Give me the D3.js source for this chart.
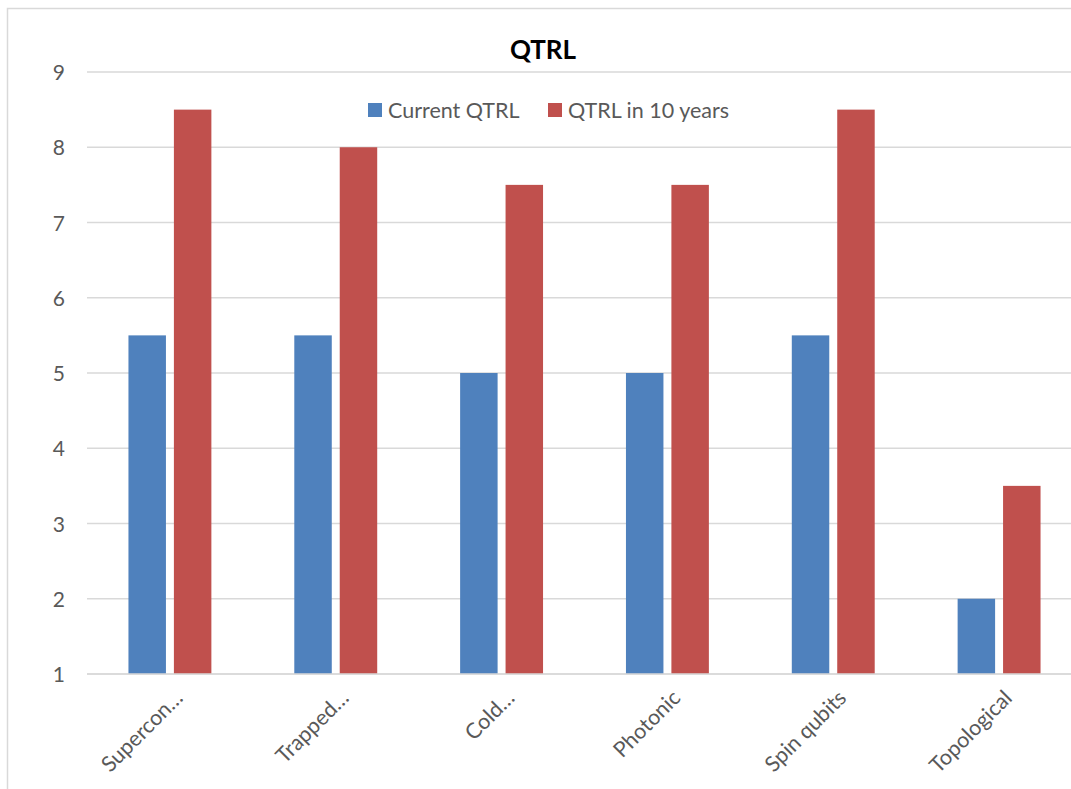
<!DOCTYPE html>
<html>
<head>
<meta charset="utf-8">
<script src="https://cdn.jsdelivr.net/npm/d3@7"></script>
<style>
  html, body { margin: 0; padding: 0; background: #fff; }
  svg { display: block; font-family: Lato, "Open Sans", "Liberation Sans", sans-serif; }
</style>
</head>
<body>
<svg id="chart" width="1071" height="789"></svg>
<script>
// Technology platforms and their readiness levels
const categories = ["Supercon…", "Trapped…", "Cold…", "Photonic", "Spin qubits", "Topological"];
const currentQTRL = [5.5, 5.5, 5, 5, 5.5, 2];
const futureQTRL = [8.5, 8, 7.5, 7.5, 8.5, 3.5];
const seriesNames = ["Current QTRL", "QTRL in 10 years"];
const yTicks = [1, 2, 3, 4, 5, 6, 7, 8, 9];

const colors = ["#4F81BD", "#C0504D"];
const svg = d3.select("#chart");

// Chart area frame
svg.append("rect")
  .attr("x", 7.5).attr("y", 8.5)
  .attr("width", 1100).attr("height", 820)
  .attr("fill", "#fff").attr("stroke", "#d9d9d9").attr("stroke-width", 1.5);

const plot = { left: 87, right: 1082, top: 72, bottom: 674 };

const x0 = d3.scaleBand().domain(categories).range([plot.left, plot.right]);
const step = x0.step();
const barW = step * 0.226;
const gap = step * 0.048;
const groupW = barW * 2 + gap;
const x1 = d3.scaleBand().domain(seriesNames)
  .range([(step - groupW) / 2, (step + groupW) / 2])
  .paddingInner(gap / (barW + gap));

const y = d3.scaleLinear().domain([1, 9]).range([plot.bottom, plot.top]);

// Gridlines
svg.append("g")
  .selectAll("line")
  .data(yTicks)
  .join("line")
  .attr("x1", plot.left).attr("x2", plot.right)
  .attr("y1", d => y(d)).attr("y2", d => y(d))
  .attr("stroke", "#d9d9d9").attr("stroke-width", 1.5);

// Y axis labels
const yAxis = d3.axisLeft(y).tickValues(yTicks).tickSize(0).tickPadding(0);
svg.append("g")
  .attr("transform", `translate(${plot.left - 22},0)`)
  .call(yAxis)
  .call(g => g.select(".domain").remove())
  .call(g => g.selectAll("text")
    .attr("fill", "#595959")
    .style("font-size", "21px")
    .style("font-family", "Lato, 'Open Sans', sans-serif")
    .attr("dy", "0.36em"));

// Bars
const rows = categories.map((c, i) => ({ cat: c, vals: [currentQTRL[i], futureQTRL[i]] }));
const groups = svg.append("g")
  .selectAll("g")
  .data(rows)
  .join("g")
  .attr("transform", d => `translate(${x0(d.cat)},0)`);

groups.selectAll("rect")
  .data(d => d.vals.map((v, j) => ({ name: seriesNames[j], v, j })))
  .join("rect")
  .attr("x", d => x1(d.name))
  .attr("width", x1.bandwidth())
  .attr("y", d => y(d.v))
  .attr("height", d => y(1) - y(d.v))
  .attr("fill", d => colors[d.j]);

// Baseline
svg.append("line")
  .attr("x1", plot.left).attr("x2", plot.right)
  .attr("y1", y(1)).attr("y2", y(1))
  .attr("stroke", "#d9d9d9").attr("stroke-width", 1.5);

// Category labels, rotated
const xAxis = d3.axisBottom(x0).tickSize(0).tickPadding(0);
svg.append("g")
  .attr("transform", `translate(0,${plot.bottom})`)
  .call(xAxis)
  .call(g => g.select(".domain").remove())
  .call(g => g.selectAll("text")
    .attr("fill", "#595959")
    .style("font-size", "21.5px")
    .style("font-family", "Lato, 'Open Sans', sans-serif")
    .attr("text-anchor", "end")
    .attr("transform", "translate(9,20) rotate(-45)")
    .attr("dy", "0.35em"));

// Title
svg.append("text")
  .attr("x", 543).attr("y", 59)
  .attr("text-anchor", "middle")
  .attr("fill", "#000")
  .style("font-size", "26px")
  .style("font-weight", "bold")
  .text("QTRL");

// Legend
const legendItems = [
  { name: seriesNames[0], x: 368 },
  { name: seriesNames[1], x: 548 }
];
const legend = svg.append("g")
  .selectAll("g")
  .data(legendItems)
  .join("g")
  .attr("transform", d => `translate(${d.x},${103})`);
legend.append("rect")
  .attr("width", 14).attr("height", 14)
  .attr("fill", (d, i) => colors[i]);
legend.append("text")
  .attr("x", 20).attr("y", 7).attr("dy", "0.36em")
  .attr("fill", "#595959")
  .style("font-size", "21.5px")
  .text(d => d.name);
</script>
</body>
</html>
